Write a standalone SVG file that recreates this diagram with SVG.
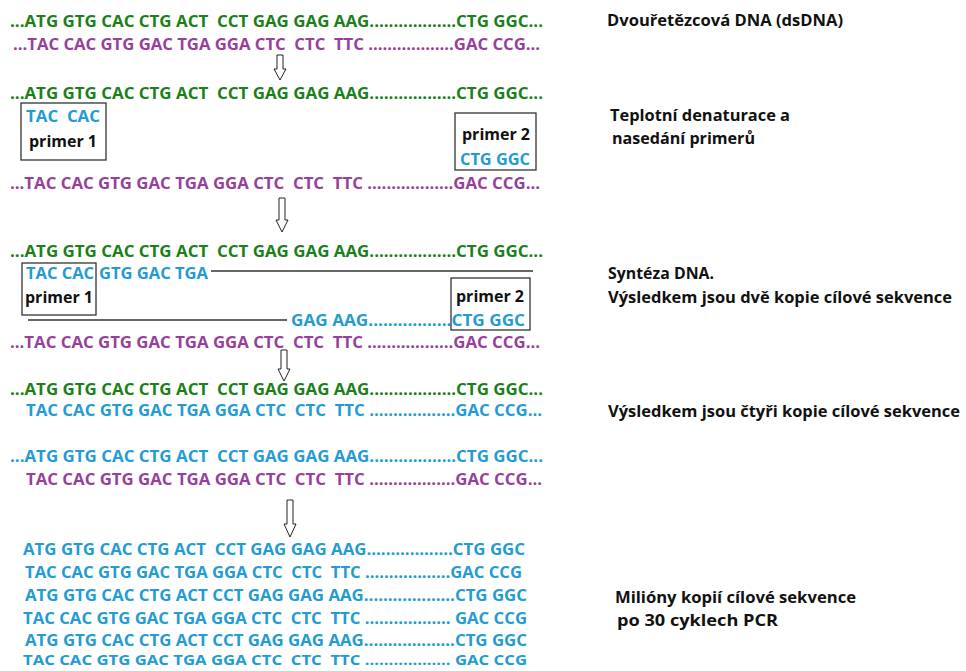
<svg xmlns="http://www.w3.org/2000/svg" width="966" height="671" viewBox="0 0 966 671">
<style>
text{font-family:"Open Sans","Liberation Sans",sans-serif;font-weight:bold;font-size:16px;white-space:pre}
.g{fill:#1a801a}
.p{fill:#983f9c}
.b{fill:#239bd3}
.k{fill:#111;font-size:16px}
.box{fill:none;stroke:#333;stroke-width:1.3}
.ln{stroke:#333;stroke-width:1.3}
.arr{fill:#fff;stroke:#222;stroke-width:1}
</style>
<rect width="966" height="671" fill="#fff"/>
<g id="step1">
<text class="g" x="10" y="27" textLength="533" lengthAdjust="spacingAndGlyphs">...ATG GTG CAC CTG ACT  CCT GAG GAG AAG..................CTG GGC...</text>
<text class="p" x="13" y="50" textLength="527" lengthAdjust="spacingAndGlyphs">...TAC CAC GTG GAC TGA GGA CTC  CTC  TTC ..................GAC CCG...</text>
<text class="k" x="607" y="26" textLength="236" lengthAdjust="spacingAndGlyphs">Dvouřetězcová DNA (dsDNA)</text>
</g>
<g id="step2">
<text class="g" x="10" y="99" textLength="533" lengthAdjust="spacingAndGlyphs">...ATG GTG CAC CTG ACT  CCT GAG GAG AAG..................CTG GGC...</text>
<g id="primer1a">
<rect class="box" x="21" y="103" width="85" height="57"/>
<text class="b" x="26" y="122" textLength="74" lengthAdjust="spacingAndGlyphs">TAC  CAC</text>
<text class="k" x="63" y="147" text-anchor="middle">primer 1</text>
</g>
<g id="primer2a">
<rect class="box" x="455" y="113" width="81" height="57"/>
<text class="k" x="496" y="140" text-anchor="middle">primer 2</text>
<text class="b" x="460" y="165" textLength="70" lengthAdjust="spacingAndGlyphs">CTG GGC</text>
</g>
<text class="p" x="10" y="189" textLength="530" lengthAdjust="spacingAndGlyphs">...TAC CAC GTG GAC TGA GGA CTC  CTC  TTC ..................GAC CCG...</text>
<text class="k" x="610" y="121" textLength="180" lengthAdjust="spacingAndGlyphs">Teplotní denaturace a</text>
<text class="k" x="612" y="144" textLength="143" lengthAdjust="spacingAndGlyphs">nasedání primerů</text>
</g>
<g id="step3">
<text class="g" x="10" y="257" textLength="533" lengthAdjust="spacingAndGlyphs">...ATG GTG CAC CTG ACT  CCT GAG GAG AAG..................CTG GGC...</text>
<g id="primer1b">
<rect class="box" x="22" y="263" width="74" height="52"/>
<text class="b" x="26" y="279" textLength="68" lengthAdjust="spacingAndGlyphs">TAC CAC</text>
<text class="k" x="59" y="303" text-anchor="middle">primer 1</text>
</g>
<text class="b" x="99" y="279" textLength="109" lengthAdjust="spacingAndGlyphs">GTG GAC TGA</text>
<g id="primer2b">
<rect class="box" x="451" y="278" width="79" height="52"/>
<text class="k" x="490" y="302" text-anchor="middle">primer 2</text>
</g>
<text class="b" x="291" y="326" textLength="234" lengthAdjust="spacingAndGlyphs">GAG AAG.................CTG GGC</text>
<text class="p" x="10" y="348" textLength="530" lengthAdjust="spacingAndGlyphs">...TAC CAC GTG GAC TGA GGA CTC  CTC  TTC ..................GAC CCG...</text>
<text class="k" x="608" y="279" textLength="106" lengthAdjust="spacingAndGlyphs">Syntéza DNA.</text>
<text class="k" x="608" y="303" textLength="344" lengthAdjust="spacingAndGlyphs">Výsledkem jsou dvě kopie cílové sekvence</text>
</g>
<g id="step4">
<text class="g" x="10" y="395" textLength="533" lengthAdjust="spacingAndGlyphs">...ATG GTG CAC CTG ACT  CCT GAG GAG AAG..................CTG GGC...</text>
<text class="b" x="26" y="416" textLength="516" lengthAdjust="spacingAndGlyphs">TAC CAC GTG GAC TGA GGA CTC  CTC  TTC ..................GAC CCG...</text>
<text class="b" x="10" y="462" textLength="533" lengthAdjust="spacingAndGlyphs">...ATG GTG CAC CTG ACT  CCT GAG GAG AAG..................CTG GGC...</text>
<text class="p" x="26" y="485" textLength="516" lengthAdjust="spacingAndGlyphs">TAC CAC GTG GAC TGA GGA CTC  CTC  TTC ..................GAC CCG...</text>
<text class="k" x="608" y="417" textLength="352" lengthAdjust="spacingAndGlyphs">Výsledkem jsou čtyři kopie cílové sekvence</text>
</g>
<g id="step5">
<text class="b" x="23" y="555" textLength="502" lengthAdjust="spacingAndGlyphs">ATG GTG CAC CTG ACT  CCT GAG GAG AAG..................CTG GGC</text>
<text class="b" x="25" y="578" textLength="497" lengthAdjust="spacingAndGlyphs">TAC CAC GTG GAC TGA GGA CTC  CTC  TTC ..................GAC CCG</text>
<text class="b" x="25" y="601" textLength="502" lengthAdjust="spacingAndGlyphs">ATG GTG CAC CTG ACT CCT GAG GAG AAG...................CTG GGC</text>
<text class="b" x="23" y="624" textLength="504" lengthAdjust="spacingAndGlyphs">TAC CAC GTG GAC TGA GGA CTC  CTC  TTC .................. GAC CCG</text>
<text class="b" x="25" y="646" textLength="502" lengthAdjust="spacingAndGlyphs">ATG GTG CAC CTG ACT CCT GAG GAG AAG...................CTG GGC</text>
<text class="b" x="23" y="665" textLength="504" lengthAdjust="spacingAndGlyphs" style="font-size:15px">TAC CAC GTG GAC TGA GGA CTC  CTC  TTC .................. GAC CCG</text>
<text class="k" x="615" y="603" textLength="241" lengthAdjust="spacingAndGlyphs">Milióny kopií cílové sekvence</text>
<text class="k" x="617" y="626" textLength="161" lengthAdjust="spacingAndGlyphs">po 30 cyklech PCR</text>
</g>
<g id="connectors">
<line class="ln" x1="211" y1="271" x2="533" y2="271"/>
<line class="ln" x1="28" y1="320" x2="287" y2="320"/>
<path class="arr" d="M277,55 H283 V69 H286 L280,80 L274,69 H277 Z"/>
<path class="arr" d="M279,198 H285 V220 H288 L282,232 L276,220 H279 Z"/>
<path class="arr" d="M281,350 H287 V369 H290 L284,381 L278,369 H281 Z"/>
<path class="arr" d="M287,500 H293 V524 H296 L290,537 L284,524 H287 Z"/>
</g>
</svg>
